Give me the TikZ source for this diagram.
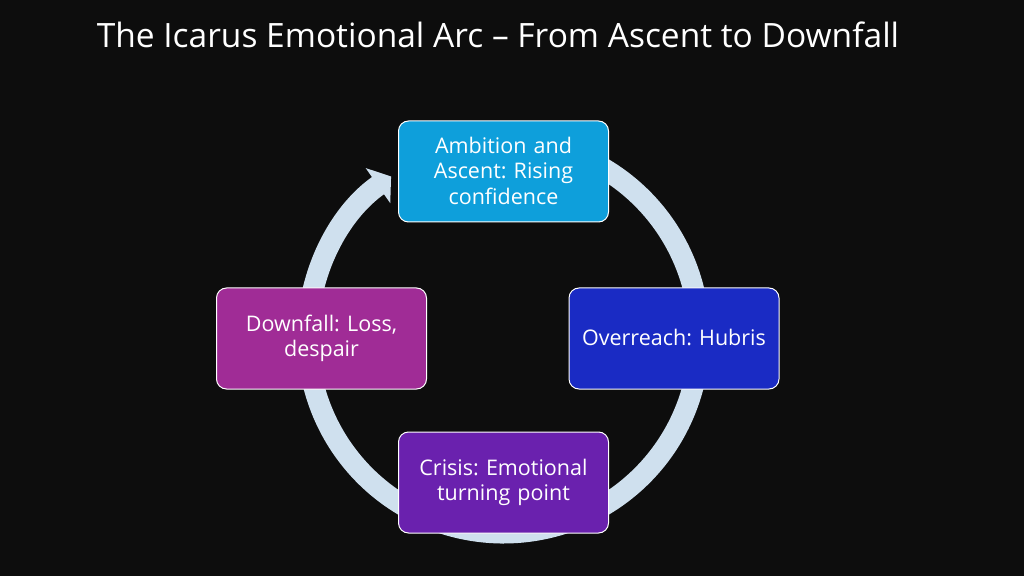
\documentclass[tikz,border=0pt]{standalone}
\usepackage{fontspec}
\setmainfont{Open Sans}
\usetikzlibrary{arrows.meta,backgrounds,calc}
\definecolor{bgc}{HTML}{0D0D0D}
\definecolor{ringc}{HTML}{CFE0EE}
\definecolor{ca}{HTML}{0E9FDB}
\definecolor{cb}{HTML}{1A2BC4}
\definecolor{cc}{HTML}{6A21AE}
\definecolor{cd}{HTML}{A02C96}
\tikzset{
  stage/.style={draw=white,line width=1pt,rounded corners=10pt,minimum width=210pt,minimum height=101pt,
    text=white,align=center,inner sep=0pt,text width=200pt,font=\frenchspacing\fontsize{21.5}{25.5}\selectfont},
  ringarc/.style={draw=ringc,line width=21pt},
  ringhead/.style={ringarc,-{Triangle[length=16pt,width=42pt]}},
  titletext/.style={text=white,font=\frenchspacing\fontsize{33.5}{38}\selectfont,inner sep=0pt}
}
\newcommand{\lift}[1]{\raisebox{2pt}{#1}}
\begin{document}
\begin{tikzpicture}[x=1pt,y=1pt]
\useasboundingbox (0,0) rectangle (1024,576);
\node[titletext] (title) at (498,541) {The Icarus Emotional Arc – From Ascent to Downfall};
\node[stage,fill=ca] (a) at (503.5,404.5) {\lift{Ambition and}\\\lift{Ascent: Rising}\\\lift{confidence}};
\node[stage,fill=cb] (b) at (674,237.5) {\lift{Overreach: Hubris}};
\node[stage,fill=cc] (c) at (503.5,93.5) {\lift{Crisis: Emotional}\\\lift{turning point}};
\node[stage,fill=cd] (d) at (321.5,237.5) {\lift{Downfall: Loss,}\\\lift{despair}};
\coordinate (ctr) at (503.5,239);
\coordinate (ra) at ($(ctr)+(90:196)$);
\coordinate (rb) at ($(ctr)+(0:196)$);
\coordinate (rc) at ($(ctr)+(-90:196)$);
\coordinate (rd) at ($(ctr)+(180:196)$);
\begin{scope}[on background layer]
\fill[bgc] (0,0) rectangle (1024,576);
\draw[ringarc] (ra) arc[start angle=90,end angle=-1,radius=196];
\draw[ringarc] (rb) arc[start angle=0,end angle=-91,radius=196];
\draw[ringarc] (rc) arc[start angle=-90,end angle=-181,radius=196];
\draw[ringhead] (rd) arc[start angle=180,end angle=125,radius=196];
\end{scope}
\end{tikzpicture}
\end{document}
